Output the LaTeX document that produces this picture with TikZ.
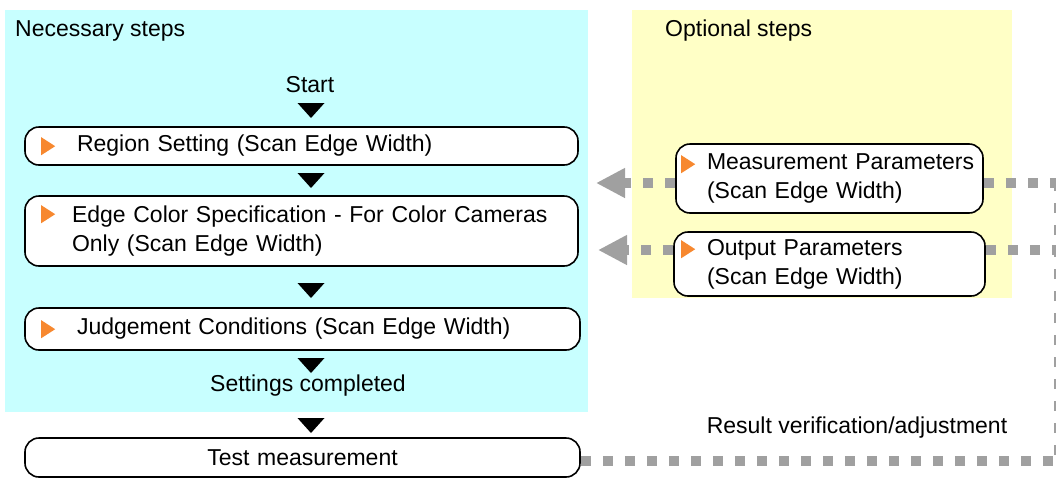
\documentclass[tikz,border=0pt]{standalone}
\usepackage{fontspec}
\setmainfont{Liberation Sans}
\usetikzlibrary{arrows.meta,calc}
\definecolor{necbg}{HTML}{C8FFFF}
\definecolor{optbg}{HTML}{FFFFC6}
\definecolor{orng}{HTML}{F7882F}
\definecolor{dotg}{HTML}{A0A0A0}
\newcommand\otri[1]{\fill[orng] #1 -- ++(0,18) -- ++(14,-9) -- cycle;}
\newcommand\dtri[1]{\fill[black] #1 -- ++(27,0) -- ++(-13.5,15) -- cycle;}
\newcommand\ind[1]{\hspace*{#1pt}}
\begin{document}
\begin{tikzpicture}[x=1pt,y=-1pt,
  font=\fontsize{23}{29}\selectfont,
  box/.style={draw=black, line width=1.6pt, rounded corners=14pt, fill=white,
              inner xsep=0pt, inner ysep=0pt, align=left},
  lbl/.style={inner sep=0pt},
  dots/.style={draw=dotg, line width=10pt, dash pattern=on 10pt off 12pt},
  back/.style={dots, -{Triangle[length=29pt,width=28pt]}}]
\useasboundingbox (0,0) rectangle (1056,477);
% panels
\fill[necbg] (5,10) rectangle (588,412);
\fill[optbg] (632,10) rectangle (1012,298);
% labels
\node[lbl, anchor=west] (nec) at (15,31) {Necessary steps};
\node[lbl, anchor=west] (opt) at (665,31) {Optional steps};
\node[lbl] (start) at (310,85) {Start};
\node[lbl] (done) at (308,386) {Settings completed};
\node[lbl] (res) at (857,428) {Result verification/adjustment};
% boxes
\node[box, text width=553pt, minimum height=38pt] (b1) at (301.5,146)
  {\ind{52}Region Setting (Scan Edge Width)};
\node[box, text width=553pt, minimum height=70pt] (b2) at (301.5,231)
  {\ind{47}Edge Color Specification - For Color Cameras\\\ind{47}Only (Scan Edge Width)};
\node[box, text width=555pt, minimum height=42pt] (b3) at (302.5,329)
  {\ind{52}Judgement Conditions (Scan Edge Width)};
\node[box, text width=555pt, minimum height=39pt, align=center] (test) at (302.5,457.5)
  {Test measurement};
\node[box, text width=307pt, minimum height=69pt] (m) at (829.5,178.5)
  {\ind{31}Measurement Parameters\\\ind{31}(Scan Edge Width)};
\node[box, text width=311pt, minimum height=64pt] (o) at (829.5,264)
  {\ind{33}Output Parameters\\\ind{33}(Scan Edge Width)};
% orange markers
\otri{($(b1.north west)+(17,11)$)}
\otri{($(b2.north west)+(17,10)$)}
\otri{($(b3.north west)+(17,13)$)}
\otri{($(m.north west)+(6,12)$)}
\otri{($(o.north west)+(8,9)$)}
% flow triangles
\dtri{(297.5,103)}
\dtri{(297.5,173)}
\dtri{(297.5,283)}
\dtri{(297.5,358)}
\dtri{(297.5,418)}
% dotted connectors
\coordinate (mL) at (596,183);
\coordinate (oL) at (598,250);
\coordinate (mR) at (1059,183);
\coordinate (oR) at (1059,250);
\coordinate (bR) at (1059,461);
\coordinate (tR) at (1059,176);
\draw[back] ([yshift=-4.5pt]m.west) -- (mL);
\draw[back] ([yshift=14pt]o.west) -- (oL);
\draw[dots] ([yshift=-4.5pt]m.east) -- (mR);
\draw[dots] ([yshift=14pt]o.east) -- (oR);
\draw[dots] ([yshift=-3.5pt]test.east) -- (bR) -- (tR);
\end{tikzpicture}
\end{document}
